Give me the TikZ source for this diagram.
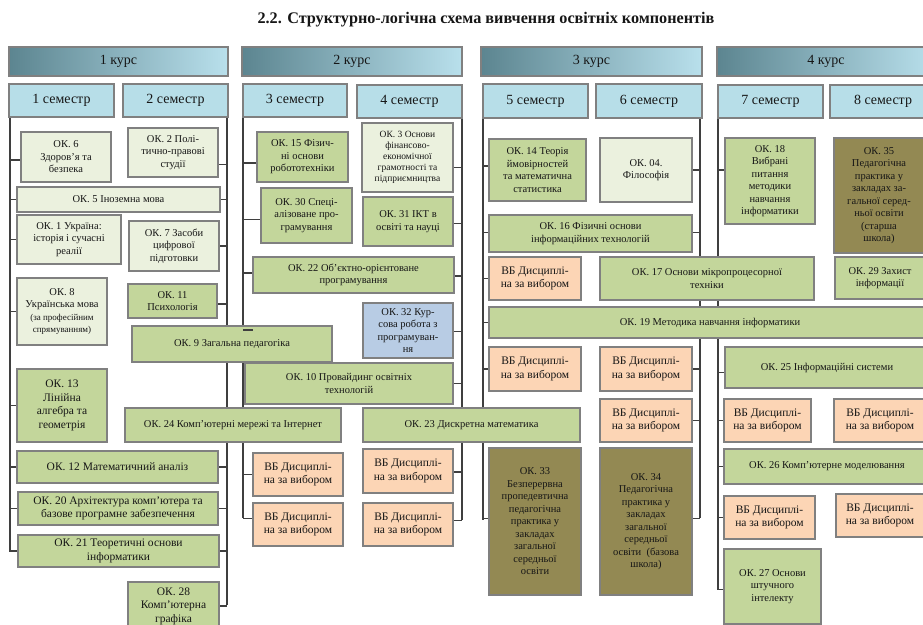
\documentclass[tikz,border=0pt]{standalone}
\usepackage{fontspec}
\setmainfont{Liberation Serif}[BoldFont={Liberation Serif Bold}]
\usetikzlibrary{calc,shadows}

\definecolor{cLight}{HTML}{EBF1DE}
\definecolor{cGreen}{HTML}{C3D69B}
\definecolor{cBlue}{HTML}{B8CCE4}
\definecolor{cPeach}{HTML}{FCD5B5}
\definecolor{cOlive}{HTML}{938953}
\definecolor{cSem}{HTML}{B7DEE8}
\definecolor{cHdL}{HTML}{5C8590}
\definecolor{cHdR}{HTML}{B9E0EC}
\definecolor{cBorder}{HTML}{808080}
\definecolor{cLine}{HTML}{3F3F3F}
\definecolor{cText}{HTML}{161616}

\tikzset{
  base/.style={draw=cBorder, line width=2.2pt, align=center, inner sep=1pt,
    text=cText, drop shadow={shadow xshift=1.2pt, shadow yshift=-1.2pt, opacity=.3}},
  normt/.style={font=\fontsize{10.5}{12.5}\selectfont},
  bigt/.style={font=\fontsize{11.5}{13.5}\selectfont},
  smallt/.style={font=\fontsize{9.5}{11}\selectfont},
  okl/.style={base, normt, fill=cLight},
  okg/.style={base, normt, fill=cGreen},
  okb/.style={base, normt, fill=cBlue},
  vb/.style={base, bigt, fill=cPeach},
  pr/.style={base, normt, fill=cOlive},
  course/.style={base, font=\fontsize{14}{16}\selectfont, left color=cHdL, right color=cHdR},
  sem/.style={base, font=\fontsize{14}{16}\selectfont, fill=cSem},
  conn/.style={draw=cLine, line width=1.1pt},
}

% box by its corners: style, name, x1, y1, x2, y2, text
\newcommand\bx[7]{%
  \pgfmathsetmacro\bxw{#5-#3}\pgfmathsetmacro\bxh{#6-#4}%
  \pgfmathsetmacro\bxc{(#3+#5)/2}\pgfmathsetmacro\byc{(#4+#6)/2}%
  \node[#1, minimum width=\bxw pt, minimum height=\bxh pt] (#2) at (\bxc,\byc) {#7};}

% branch from a box side to a trunk: box, anchor, trunk, vertical offset
\newcommand\tk[4]{%
  \path ($(#1.#2)+(0,#4)$) coordinate (tkp);
  \draw[conn] (tkp) -- (tkp -| #3);}

\begin{document}
\begin{tikzpicture}[x=1pt,y=-1pt]
\useasboundingbox (0,0) rectangle (923,624);
\clip (0,0) rectangle (923,624);

\node[font=\bfseries\fontsize{16.2}{19}\selectfont, text=cText] (title) at (486,20)
  {2.2. Структурно-логічна схема вивчення освітніх компонентів};

% trunks under the semesters
\coordinate (t1) at (10,117);  \coordinate (t1e) at (10,552);
\coordinate (t2) at (227,117); \coordinate (t2e) at (227,605);
\coordinate (t3) at (243,117); \coordinate (t3e) at (243,518);
\coordinate (t4) at (462,117); \coordinate (t4e) at (462,520);
\coordinate (t5) at (483,118); \coordinate (t5e) at (483,520);
\coordinate (t6) at (700,118); \coordinate (t6e) at (700,518);
\coordinate (t7) at (718,118); \coordinate (t7e) at (718,590);
\foreach \a/\b in {t1/t1e,t2/t2e,t3/t3e,t4/t4e,t5/t5e,t6/t6e,t7/t7e}
  \draw[conn] (\a) -- (\b);

% courses
\bx{course}{c1}{9}{47}{228}{76}{1 курс}
\bx{course}{c2}{242}{47}{462}{76}{2 курс}
\bx{course}{c3}{481}{47}{702}{76}{3 курс}
\bx{course}{c4}{717}{47}{935}{76}{4 курс}

% semesters
\bx{sem}{s1}{9}{84}{114}{117}{1 семестр}
\bx{sem}{s2}{123}{84}{228}{117}{2 семестр}
\bx{sem}{s3}{243}{84}{347}{117}{3 семестр}
\bx{sem}{s4}{357}{85}{462}{118}{4 семестр}
\bx{sem}{s5}{483}{84}{588}{118}{5 семестр}
\bx{sem}{s6}{596}{84}{702}{118}{6 семестр}
\bx{sem}{s7}{718}{85}{823}{118}{7 семестр}
\bx{sem}{s8}{830}{85}{936}{118}{8 семестр}

% 1st year
\bx{okl}{ok6}{21}{132}{111}{182}{ОК. 6\\Здоров’я та\\безпека}
\bx{okl}{ok2}{128}{128}{218}{177}{ОК. 2 Полі-\\тично-правові\\студії}
\bx{okl}{ok5}{17}{187}{220}{212}{ОК. 5 Іноземна мова}
\bx{okl}{ok1}{17}{215}{121}{264}{ОК. 1 Україна:\\історія і сучасні\\реалії}
\bx{okl}{ok7}{129}{221}{219}{271}{ОК. 7 Засоби\\цифрової\\підготовки}
\bx{okl}{ok8}{17}{278}{107}{345}{ОК. 8\\Українська мова\\{\fontsize{9}{10.5}\selectfont (за професійним}\\{\fontsize{9}{10.5}\selectfont спрямуванням)}}
\bx{okg}{ok11}{128}{284}{217}{318}{ОК. 11\\Психологія}
\bx{okg,bigt}{ok13}{17}{369}{107}{442}{ОК. 13\\Лінійна\\алгебра та\\геометрія}
\bx{okg,bigt}{ok12}{17}{451}{218}{483}{ОК. 12 Математичний аналіз}
\bx{okg,bigt}{ok20}{18}{492}{218}{525}{ОК. 20 Архітектура комп’ютера та\\базове програмне забезпечення}
\bx{okg,bigt}{ok21}{18}{535}{219}{567}{ОК. 21 Теоретичні основи\\інформатики}
\bx{okg,bigt}{ok28}{128}{582}{219}{630}{ОК. 28\\Комп’ютерна\\графіка}

% 2nd year
\bx{okg}{ok15}{257}{132}{348}{182}{ОК. 15 Фізич-\\ні основи\\робототехніки}
\bx{okl,smallt}{ok3}{362}{123}{453}{192}{ОК. 3 Основи\\фінансово-\\економічної\\грамотності та\\підприємництва}
\bx{okg}{ok30}{261}{188}{352}{243}{ОК. 30 Спеці-\\алізоване про-\\грамування}
\bx{okg}{ok31}{363}{197}{453}{246}{ОК. 31 ІКТ в\\освіті та науці}
\bx{okg}{ok22}{253}{257}{454}{293}{ОК. 22 Об’єктно-орієнтоване\\програмування}
\bx{okb}{ok32}{363}{303}{453}{358}{ОК. 32 Кур-\\сова робота з\\програмуван-\\ня}
\bx{okg}{ok9}{132}{326}{332}{362}{ОК. 9 Загальна педагогіка}
\bx{okg}{ok10}{245}{363}{453}{404}{ОК. 10 Провайдинг освітніх\\технологій}
\bx{okg}{ok24}{125}{408}{341}{442}{ОК. 24 Комп’ютерні мережі та Інтернет}
\bx{okg}{ok23}{363}{408}{580}{442}{ОК. 23 Дискретна математика}
\bx{vb}{vb3a}{253}{453}{343}{496}{ВБ Дисциплі-\\на за вибором}
\bx{vb}{vb3b}{253}{503}{343}{546}{ВБ Дисциплі-\\на за вибором}
\bx{vb}{vb4a}{363}{449}{453}{493}{ВБ Дисциплі-\\на за вибором}
\bx{vb}{vb4b}{363}{503}{453}{546}{ВБ Дисциплі-\\на за вибором}

% 3rd year
\bx{okg}{ok14}{489}{139}{586}{201}{ОК. 14 Теорія\\ймовірностей\\та математична\\статистика}
\bx{okl}{ok04}{600}{138}{692}{202}{ОК. 04.\\Філософія}
\bx{okg}{ok16}{489}{215}{692}{252}{ОК. 16 Фізичні основи\\інформаційних технологій}
\bx{vb}{vb5a}{489}{257}{581}{300}{ВБ Дисциплі-\\на за вибором}
\bx{okg}{ok17}{600}{257}{814}{300}{ОК. 17 Основи мікропроцесорної\\техніки}
\bx{okg}{ok19}{489}{307}{931}{338}{ОК. 19 Методика навчання інформатики}
\bx{vb}{vb5b}{489}{347}{581}{391}{ВБ Дисциплі-\\на за вибором}
\bx{vb}{vb6a}{600}{347}{692}{391}{ВБ Дисциплі-\\на за вибором}
\bx{vb}{vb6b}{600}{399}{692}{442}{ВБ Дисциплі-\\на за вибором}
\bx{pr}{ok33}{489}{448}{581}{595}{ОК. 33\\Безперервна\\пропедевтична\\педагогічна\\практика у\\закладах\\загальної\\середньої\\освіти}
\bx{pr}{ok34}{600}{448}{692}{595}{ОК. 34\\Педагогічна\\практика у\\закладах\\загальної\\середньої\\освіти~ (базова\\школа)}

% 4th year
\bx{okg}{ok18}{725}{138}{815}{224}{ОК. 18\\Вибрані\\питання\\методики\\навчання\\інформатики}
\bx{pr}{ok35}{834}{138}{924}{253}{ОК. 35\\Педагогічна\\практика у\\закладах за-\\гальної серед-\\ньої освіти\\(старша\\школа)}
\bx{okg}{ok29}{835}{257}{925}{299}{ОК. 29 Захист\\інформації}
\bx{okg}{ok25}{725}{347}{929}{388}{ОК. 25 Інформаційні системи}
\bx{vb}{vb7a}{724}{399}{811}{442}{ВБ Дисциплі-\\на за вибором}
\bx{vb}{vb8a}{834}{399}{926}{442}{ВБ Дисциплі-\\на за вибором}
\bx{okg}{ok26}{724}{449}{930}{484}{ОК. 26 Комп’ютерне моделювання}
\bx{vb}{vb7b}{724}{496}{815}{539}{ВБ Дисциплі-\\на за вибором}
\bx{vb}{vb8b}{836}{494}{924}{537}{ВБ Дисциплі-\\на за вибором}
\bx{okg}{ok27}{724}{549}{821}{624}{ОК. 27 Основи\\штучного\\інтелекту}

% branches, semester 1
\tk{ok6}{west}{t1}{3}
\tk{ok5}{west}{t1}{0}
\tk{ok1}{west}{t1}{0}
\tk{ok8}{west}{t1}{0}
\tk{ok13}{west}{t1}{0}
\tk{ok12}{west}{t1}{0}
\tk{ok20}{west}{t1}{0}
\tk{ok21}{west}{t1}{0}
% semester 2
\tk{ok2}{east}{t2}{12}
\tk{ok5}{east}{t2}{0}
\tk{ok7}{east}{t2}{0}
\tk{ok11}{east}{t2}{3}
\tk{ok12}{east}{t2}{0}
\tk{ok20}{east}{t2}{0}
\tk{ok21}{east}{t2}{0}
\tk{ok28}{east}{t2}{0}
% semester 3
\tk{ok15}{west}{t3}{6}
\tk{ok30}{west}{t3}{4}
\tk{ok22}{west}{t3}{-2}
\tk{vb3a}{west}{t3}{0}
\tk{vb3b}{west}{t3}{-6}
\coordinate (t3d) at (243,330); \coordinate (t3de) at (253,330);
\draw[conn] (t3d) -- (t3de);
% semester 4
\tk{ok3}{east}{t4}{10}
\tk{ok31}{east}{t4}{2}
\tk{ok22}{east}{t4}{1}
\tk{ok32}{east}{t4}{1}
\tk{ok10}{east}{t4}{0}
\tk{vb4a}{east}{t4}{1}
\tk{vb4b}{east}{t4}{-4}
% semester 5
\tk{ok14}{west}{t5}{-4}
\tk{ok16}{west}{t5}{-1}
\tk{vb5a}{west}{t5}{0}
\tk{ok19}{west}{t5}{0}
\tk{vb5b}{west}{t5}{0}
\tk{ok33}{west}{t5}{-3}
% semester 6
\tk{ok04}{east}{t6}{0}
\tk{ok16}{east}{t6}{-1}
\tk{vb6a}{east}{t6}{0}
\tk{vb6b}{east}{t6}{0}
\tk{ok34}{east}{t6}{-3}
% semester 7
\tk{ok18}{west}{t7}{-11}
\tk{ok25}{west}{t7}{5}
\tk{vb7a}{west}{t7}{0}
\tk{ok26}{west}{t7}{0}
\tk{vb7b}{west}{t7}{0}
\tk{ok27}{west}{t7}{3}
\end{tikzpicture}
\end{document}
